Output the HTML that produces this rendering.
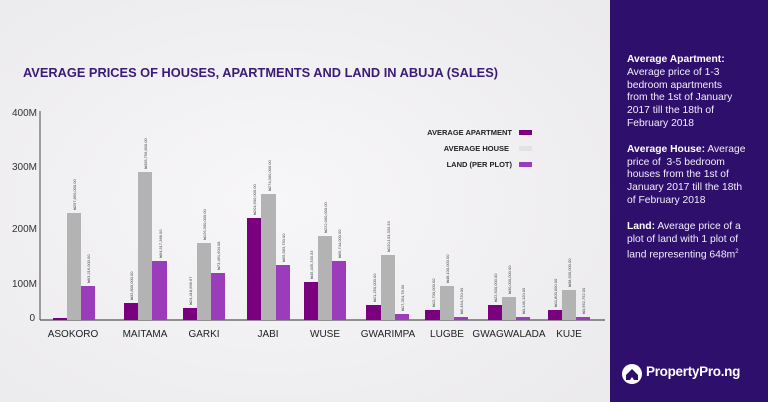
<!DOCTYPE html>
<html><head><meta charset="utf-8"><style>
html,body{margin:0;padding:0;width:768px;height:402px;overflow:hidden;background:#f2f1f3}
svg{display:block}
.side{position:absolute;left:610px;top:0;width:158px;height:402px;background:#2f0f6c;color:#f2eefa;font-family:"Liberation Sans",sans-serif;font-size:10.3px;line-height:12.8px}
.side p{margin:0 0 13px 0;padding:0 0 0 17px;white-space:nowrap}
.side b{color:#fff}
</style></head><body>
<svg width="610" height="402" viewBox="0 0 610 402" style="position:absolute;left:0;top:0">
<defs><radialGradient id="bg" cx="0.45" cy="0.5" r="0.7"><stop offset="0" stop-color="#f7f6f8"/><stop offset="1" stop-color="#ebeaec"/></radialGradient></defs>
<rect width="610" height="402" fill="url(#bg)"/>
<text x="23" y="77" font-family="Liberation Sans,sans-serif" font-weight="bold" font-size="13" fill="#3b1a78" textLength="475" lengthAdjust="spacingAndGlyphs">AVERAGE PRICES OF HOUSES, APARTMENTS AND LAND IN ABUJA (SALES)</text>
<g font-family="Liberation Sans,sans-serif" font-size="10" fill="#333" text-anchor="end">
<text x="37" y="116">400M</text><text x="37" y="170">300M</text><text x="37" y="232">200M</text><text x="37" y="287">100M</text><text x="35" y="321">0</text>
</g>
<line x1="40" y1="111" x2="40" y2="320" stroke="#666" stroke-width="1.2"/>
<line x1="40" y1="320" x2="605" y2="320" stroke="#555" stroke-width="1.2"/>
<g font-family="Liberation Sans,sans-serif" font-weight="bold" font-size="7.5" fill="#222" text-anchor="end">
<text x="512" y="135">AVERAGE APARTMENT</text><text x="509" y="151">AVERAGE HOUSE</text><text x="512" y="167">LAND (PER PLOT)</text>
</g>
<rect x="519" y="130" width="13" height="5" fill="#7a007f"/>
<rect x="519" y="146" width="13" height="5" fill="#e2e2e2"/>
<rect x="519" y="162" width="13" height="5" fill="#9b3dbb"/>
<g id="bars">
<rect x="53" y="318" width="14" height="2" fill="#7a007f"/><rect x="67" y="213" width="14" height="107" fill="#b3b3b3"/><rect x="81" y="286" width="14" height="34" fill="#9b3dbb"/>
<rect x="124" y="303" width="14" height="17" fill="#7a007f"/><rect x="138" y="172" width="14" height="148" fill="#b3b3b3"/><rect x="152" y="261" width="15" height="59" fill="#9b3dbb"/>
<rect x="183" y="308" width="14" height="12" fill="#7a007f"/><rect x="197" y="243" width="14" height="77" fill="#b3b3b3"/><rect x="211" y="273" width="14" height="47" fill="#9b3dbb"/>
<rect x="247" y="218" width="14" height="102" fill="#7a007f"/><rect x="261" y="194" width="15" height="126" fill="#b3b3b3"/><rect x="276" y="265" width="14" height="55" fill="#9b3dbb"/>
<rect x="304" y="282" width="14" height="38" fill="#7a007f"/><rect x="318" y="236" width="14" height="84" fill="#b3b3b3"/><rect x="332" y="261" width="14" height="59" fill="#9b3dbb"/>
<rect x="366" y="305" width="15" height="15" fill="#7a007f"/><rect x="381" y="255" width="14" height="65" fill="#b3b3b3"/><rect x="395" y="314" width="14" height="6" fill="#9b3dbb"/>
<rect x="425" y="310" width="15" height="10" fill="#7a007f"/><rect x="440" y="286" width="14" height="34" fill="#b3b3b3"/><rect x="454" y="317" width="14" height="3" fill="#9b3dbb"/>
<rect x="488" y="305" width="14" height="15" fill="#7a007f"/><rect x="502" y="297" width="14" height="23" fill="#b3b3b3"/><rect x="516" y="317" width="14" height="3" fill="#9b3dbb"/>
<rect x="548" y="310" width="14" height="10" fill="#7a007f"/><rect x="562" y="290" width="14" height="30" fill="#b3b3b3"/><rect x="576" y="317" width="14" height="3" fill="#9b3dbb"/>
</g>
<g font-family="Liberation Sans,sans-serif" font-size="4" fill="#444">
<text transform="translate(76,210) rotate(-90)">₦297,850,000.00</text>
<text transform="translate(90,283) rotate(-90)">₦63,216,000.00</text>
<text transform="translate(133,300) rotate(-90)">₦32,800,000.00</text>
<text transform="translate(147,169) rotate(-90)">₦305,756,800.00</text>
<text transform="translate(162,258) rotate(-90)">₦94,517,368.00</text>
<text transform="translate(192,305) rotate(-90)">₦24,418,666.67</text>
<text transform="translate(206,240) rotate(-90)">₦126,300,000.00</text>
<text transform="translate(220,270) rotate(-90)">₦73,461,604.08</text>
<text transform="translate(256,215) rotate(-90)">₦204,500,000.00</text>
<text transform="translate(271,191) rotate(-90)">₦274,000,000.00</text>
<text transform="translate(285,262) rotate(-90)">₦55,583,750.00</text>
<text transform="translate(313,279) rotate(-90)">₦45,435,333.33</text>
<text transform="translate(327,233) rotate(-90)">₦222,000,000.00</text>
<text transform="translate(341,258) rotate(-90)">₦65,744,000.00</text>
<text transform="translate(376,302) rotate(-90)">₦21,250,000.00</text>
<text transform="translate(390,252) rotate(-90)">₦120,133,333.33</text>
<text transform="translate(404,311) rotate(-90)">₦17,354,78.00</text>
<text transform="translate(435,307) rotate(-90)">₦12,700,000.00</text>
<text transform="translate(449,283) rotate(-90)">₦48,100,000.00</text>
<text transform="translate(463,314) rotate(-90)">₦6,454,720.00</text>
<text transform="translate(497,302) rotate(-90)">₦22,500,000.00</text>
<text transform="translate(511,294) rotate(-90)">₦30,000,000.00</text>
<text transform="translate(525,314) rotate(-90)">₦3,146,120.00</text>
<text transform="translate(557,307) rotate(-90)">₦11,800,000.00</text>
<text transform="translate(571,287) rotate(-90)">₦38,500,000.00</text>
<text transform="translate(585,314) rotate(-90)">₦3,952,752.00</text>
</g>
<g font-family="Liberation Sans,sans-serif" font-size="10" fill="#222" text-anchor="middle">
<text x="73" y="337">ASOKORO</text><text x="145" y="337">MAITAMA</text><text x="204" y="337">GARKI</text><text x="268" y="337">JABI</text><text x="325" y="337">WUSE</text><text x="388" y="337">GWARIMPA</text><text x="447" y="337">LUGBE</text><text x="509" y="337">GWAGWALADA</text><text x="569" y="337">KUJE</text>
</g>
</svg>
<div class="side">
<div style="height:54px"></div>
<p><b>Average Apartment:</b><br>Average price of 1-3<br>bedroom apartments<br>from the 1st of January<br>2017 till the 18th of<br>February 2018</p>
<p><b>Average House:</b> Average<br>price of &nbsp;3-5 bedroom<br>houses from the 1st of<br>January 2017 till the 18th<br>of February 2018</p>
<p><b>Land:</b> Average price of a<br>plot of land with 1 plot of<br>land representing 648m<sup style="font-size:6px">2</sup></p>
<div style="position:absolute;left:12px;top:364px;width:20px;height:20px;border-radius:50%;background:#fff"></div>
<svg style="position:absolute;left:15px;top:367px" width="14" height="14" viewBox="0 0 14 14"><path d="M1 8 L7 2 L13 8 L13 13 L9 13 L7 10 L5 13 L1 13Z" fill="#2f0f6c"/></svg>
<div style="position:absolute;left:36px;top:366px;font-size:13.5px;font-weight:bold;color:#fff;letter-spacing:-0.3px">PropertyPro.ng</div>
</div>
</body></html>
